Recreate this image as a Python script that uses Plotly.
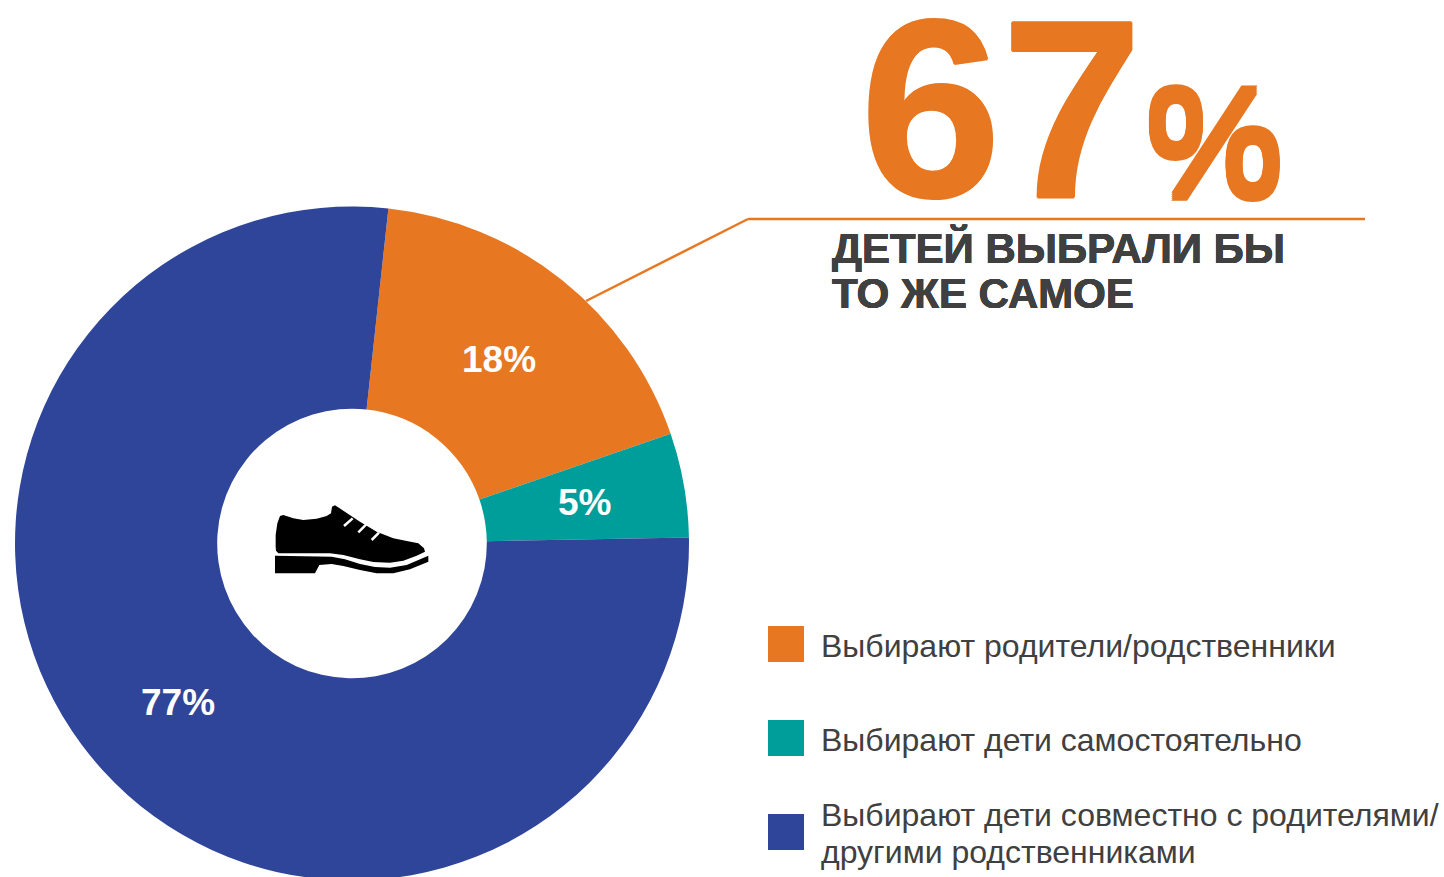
import plotly.graph_objects as go

categories = ["Выбирают родители/родственники", "Выбирают дети самостоятельно", "Выбирают дети совместно с родителями/<br>другими родственниками"]
values = [18, 5, 77]
colors = ["#E87722", "#009E9A", "#2F459A"]
W, H = 1444, 882
cx, cy, R = 352, 543.5, 337
fig = go.Figure(go.Pie(values=values, labels=categories, hole=0.4, sort=False, direction="clockwise", rotation=6.2,
    marker=dict(colors=colors, line=dict(width=0)), textinfo="none",
    domain=dict(x=[(cx-R)/W,(cx+R)/W], y=[1-(cy+R)/H,1-(cy-R)/H]), showlegend=False))
def px(x): return x/W
def py(y): return 1-y/H
shapes=[dict(type="line",xref="paper",yref="paper",x0=px(586),y0=py(301),x1=px(748),y1=py(219),line=dict(color="#E87722",width=2.5)),
        dict(type="line",xref="paper",yref="paper",x0=px(748),y0=py(219),x1=px(1365),y1=py(219),line=dict(color="#E87722",width=2.5))]
ann=[]
def t(x,y,s,size,color,bold=False,anchor="left",family="Liberation Sans",shadow=None):
    f=dict(family=family,size=size,color=color,weight="bold" if bold else "normal")
    if shadow: f["shadow"]=shadow
    ann.append(dict(xref="paper",yref="paper",x=px(x),y=py(y),text=s,showarrow=False,xanchor=anchor,yanchor="middle",font=f,align="left"))
for v,(x,y) in zip(values,[(499,359),(584,502),(178,702)]):
    t(x,y,f"{v}%",37,"white",True,"center")
sh_o="1px 0 0 #E87722, -1px 0 0 #E87722, 0 1px 0 #E87722, 0 -1px 0 #E87722"
sh_g="0.4px 0 0 #404040, -0.4px 0 0 #404040, 0 0.4px 0 #404040, 0 -0.4px 0 #404040"
t(858,109,"67",254,"#E87722",True,shadow=sh_o)
t(1143,143,"%",156,"#E87722",True,shadow="0 2px 0 #E87722, 0 -2px 0 #E87722, 0 4px 0 #E87722, 0 -4px 0 #E87722")
t(830,248,"ДЕТЕЙ ВЫБРАЛИ БЫ",42,"#404040",True,shadow=sh_g)
t(830,294,"ТО ЖЕ САМОЕ",42,"#404040",True,shadow=sh_g)
ys=[644,738,832]
ly=[646,740,815]
for c,y,l,cat in zip(colors,ys,ly,categories):
    shapes.append(dict(type="rect",xref="paper",yref="paper",x0=px(768),x1=px(804),y0=py(y-18),y1=py(y+18),fillcolor=c,line=dict(width=0)))
    for i,part in enumerate(cat.split("<br>")):
        t(819,l+37*i,part,32,"#404040")
def conv(pts):
    # pts are shoe outline points in zoomed icon units
    out=[]
    for i,(a,b) in enumerate(pts):
        out.append(("M" if i==0 else "L")+f" {px(260+a/3):.5f} {py(490+b/3):.5f}")
    return " ".join(out)+" Z"
upper=[(47,170),(47,135),(52,100),(60,78),(70,75),(100,85),(130,90),(170,86),(200,78),(213,70),(216,50),(225,46),(250,62),(300,95),(350,125),(400,145),(440,153),(475,160),(492,175),(495,185),(470,197),(430,212),(390,218),(340,216),(300,208),(250,195),(210,190),(55,190),(48,182)]
sole=[(45,197),(215,200),(255,208),(300,222),(345,231),(390,233),(440,225),(505,197),(505,215),(450,238),(400,250),(350,250),(300,240),(250,228),(215,222),(178,225),(165,250),(45,250)]
for p in (upper,sole):
    shapes.append(dict(type="path",xref="paper",yref="paper",path=conv(p),fillcolor="black",line=dict(width=0)))
for a,b,c,d in [(252,108,278,85),(295,127,318,104),(335,150,357,128)]:
    shapes.append(dict(type="line",xref="paper",yref="paper",x0=px(260+a/3),y0=py(490+b/3),x1=px(260+c/3),y1=py(490+d/3),line=dict(color="white",width=2.5)))
fig.update_layout(width=W,height=H,autosize=False,margin=dict(l=0,r=0,t=0,b=0),paper_bgcolor="white",shapes=shapes,annotations=ann)
fig.write_html("out.html",config={"displayModeBar":False},post_script="document.body.style.margin='0';document.body.style.overflow='hidden';document.documentElement.style.overflow='hidden';")
